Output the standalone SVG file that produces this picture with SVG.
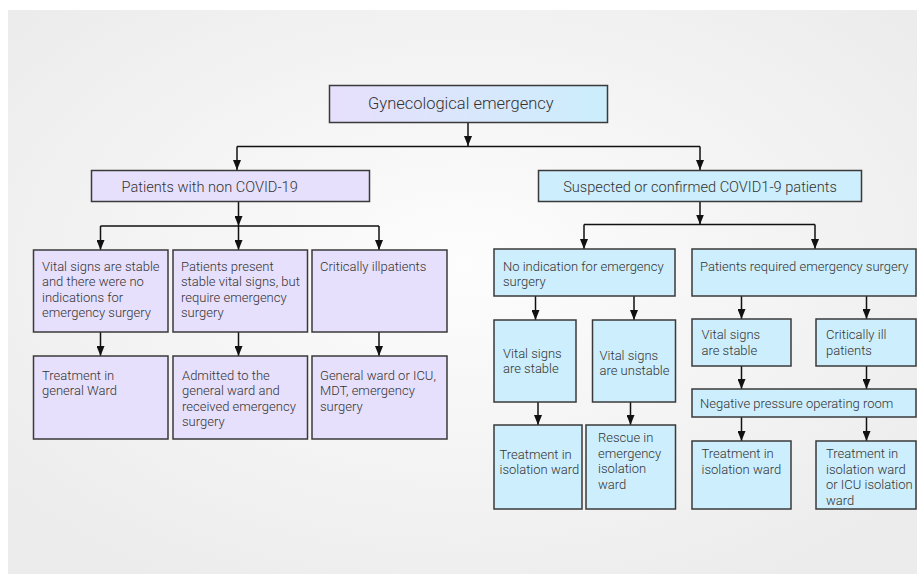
<svg xmlns="http://www.w3.org/2000/svg" width="917" height="574" viewBox="0 0 917 574">
<defs>
<radialGradient id="bg" cx="50%" cy="45%" r="65%">
<stop offset="0" stop-color="#fdfdfd"/>
<stop offset="1" stop-color="#ececec"/>
</radialGradient>
<linearGradient id="tg" x1="0" y1="0" x2="1" y2="0">
<stop offset="0" stop-color="#e7dffc"/>
<stop offset="1" stop-color="#cbeefc"/>
</linearGradient>
<marker id="ah" viewBox="0 0 10 8" refX="10" refY="4" markerWidth="10" markerHeight="8" markerUnits="userSpaceOnUse" orient="auto">
<path d="M0,0 L10,4 L0,8 z" fill="#111"/>
</marker>
<style>
.b{stroke:#3a3a3a;stroke-width:1.5}
.p{fill:#e7e0fc}
.c{fill:#cdeefc}
text{font-family:Roboto,"Liberation Sans",sans-serif;font-weight:300;fill:#333;font-size:13px}
.t1{font-size:16.5px}
.t2{font-size:14.6px}
.cn path{fill:none;stroke:#111;stroke-width:1.5}
.cn .a{marker-end:url(#ah)}
</style>
</defs>
<rect width="917" height="574" fill="#fff"/>
<rect x="8" y="10" width="909" height="564" fill="url(#bg)"/>

<g class="cn">
<path class="a" d="M468,122 V146"/>
<path d="M237,146.5 H700"/>
<path class="a" d="M237,146.5 V170"/>
<path class="a" d="M700,146.5 V170"/>
<path class="a" d="M238.5,201.5 V226"/>
<path d="M100.5,226 H379"/>
<path class="a" d="M100.5,226 V250"/>
<path class="a" d="M238.5,226 V250"/>
<path class="a" d="M379,226 V250"/>
<path class="a" d="M100.5,332 V356"/>
<path class="a" d="M238.5,332 V356"/>
<path class="a" d="M379,332 V356"/>
<path class="a" d="M700,201.5 V224.5"/>
<path d="M584,224.5 H815"/>
<path class="a" d="M584,224.5 V249"/>
<path class="a" d="M815,224.5 V249"/>
<path class="a" d="M535.5,296 V320"/>
<path class="a" d="M634,296 V320"/>
<path class="a" d="M538,402 V425"/>
<path class="a" d="M630.5,402 V425"/>
<path class="a" d="M741.5,296 V319"/>
<path class="a" d="M866.5,296 V319"/>
<path class="a" d="M741.5,366 V389"/>
<path class="a" d="M866.5,366 V389"/>
<path class="a" d="M741.5,417 V441"/>
<path class="a" d="M866.5,417 V441"/>
</g>

<g id="n-root">
<rect class="b" x="329.5" y="85.5" width="278" height="37" fill="url(#tg)"/>
<text class="t1" x="368" y="109">Gynecological emergency</text>
</g>
<g id="n-noncovid">
<rect class="b p" x="91.5" y="170.5" width="278" height="31"/>
<text class="t2" x="121.5" y="191.5">Patients with non COVID-19</text>
</g>
<g id="n-covid">
<rect class="b c" x="538.5" y="170.5" width="323" height="31"/>
<text class="t2" x="700" y="191.5" text-anchor="middle">Suspected or confirmed COVID1-9 patients</text>
</g>

<g id="n-l1">
<rect class="b p" x="33.5" y="250" width="134.5" height="82"/>
<text x="42" y="270.5">Vital signs are stable</text>
<text x="42" y="286">and there were no</text>
<text x="42" y="301.5">indications for</text>
<text x="42" y="317">emergency surgery</text>
</g>
<g id="n-l2">
<rect class="b p" x="173" y="250" width="134.5" height="82"/>
<text x="181" y="270.5">Patients present</text>
<text x="181" y="286">stable vital signs, but</text>
<text x="181" y="301.5">require emergency</text>
<text x="181" y="317">surgery</text>
</g>
<g id="n-l3">
<rect class="b p" x="312" y="250" width="135" height="82"/>
<text x="320" y="270.5">Critically illpatients</text>
</g>
<g id="n-l4">
<rect class="b p" x="33.5" y="356" width="134.5" height="83"/>
<text x="42" y="379.5">Treatment in</text>
<text x="42" y="395">general Ward</text>
</g>
<g id="n-l5">
<rect class="b p" x="173" y="356" width="134.5" height="83"/>
<text x="182" y="379.5">Admitted to the</text>
<text x="182" y="395">general ward and</text>
<text x="182" y="410.5">received emergency</text>
<text x="182" y="426">surgery</text>
</g>
<g id="n-l6">
<rect class="b p" x="312" y="356" width="135" height="83"/>
<text x="320" y="379.5">General ward or ICU,</text>
<text x="320" y="395">MDT, emergency</text>
<text x="320" y="410.5">surgery</text>
</g>

<g id="n-r1">
<rect class="b c" x="494" y="249" width="181" height="47"/>
<text x="503" y="270.5">No indication for emergency</text>
<text x="503" y="286">surgery</text>
</g>
<g id="n-r2">
<rect class="b c" x="692" y="249" width="224" height="47"/>
<text x="700" y="271">Patients required emergency surgery</text>
</g>
<g id="n-r3">
<rect class="b c" x="494" y="320" width="82" height="82"/>
<text x="503" y="358">Vital signs</text>
<text x="503" y="373">are stable</text>
</g>
<g id="n-r4">
<rect class="b c" x="592.5" y="320" width="83" height="82"/>
<text x="599.5" y="359.5">Vital signs</text>
<text x="599.5" y="374.5">are unstable</text>
</g>
<g id="n-r5">
<rect class="b c" x="494" y="425" width="88" height="84"/>
<text x="499.5" y="458.5">Treatment in</text>
<text x="499.5" y="474">isolation ward</text>
</g>
<g id="n-r6">
<rect class="b c" x="586" y="425" width="89.5" height="84"/>
<text x="598" y="442">Rescue in</text>
<text x="598" y="457.5">emergency</text>
<text x="598" y="473">isolation</text>
<text x="598" y="488.5">ward</text>
</g>
<g id="n-r7">
<rect class="b c" x="692" y="319" width="99" height="47"/>
<text x="701.5" y="339">Vital signs</text>
<text x="701.5" y="354.5">are stable</text>
</g>
<g id="n-r8">
<rect class="b c" x="816" y="319" width="100" height="47"/>
<text x="826" y="339">Critically ill</text>
<text x="826" y="354.5">patients</text>
</g>
<g id="n-r9">
<rect class="b c" x="692" y="389" width="224" height="28"/>
<text x="700" y="407.5">Negative pressure operating room</text>
</g>
<g id="n-r10">
<rect class="b c" x="692" y="441" width="99" height="68"/>
<text x="701.5" y="458">Treatment in</text>
<text x="701.5" y="473.5">isolation ward</text>
</g>
<g id="n-r11">
<rect class="b c" x="816" y="441" width="100" height="68"/>
<text x="826" y="458">Treatment in</text>
<text x="826" y="473.5">isolation ward</text>
<text x="826" y="489">or ICU isolation</text>
<text x="826" y="504.5">ward</text>
</g>
</svg>
